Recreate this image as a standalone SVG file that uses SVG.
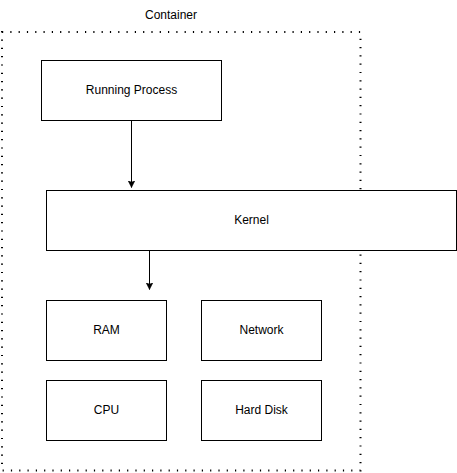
<svg xmlns="http://www.w3.org/2000/svg" width="457" height="473" viewBox="0 0 457 473">
<style>
.box{fill:#fff;stroke:#000;stroke-width:1}
.lbl{font-family:"Liberation Sans",Arial,sans-serif;font-size:12px;fill:#000;text-anchor:middle;dominant-baseline:central}
.edge{stroke:#000;stroke-width:1;fill:none}
</style>
<defs>
<marker id="arr" markerWidth="8" markerHeight="8" refX="7" refY="4" orient="auto" markerUnits="userSpaceOnUse">
<path d="M0,0.5 L7,4 L0,7.5 L1.75,4 Z" fill="#000" stroke="#000" stroke-width="0.5"/>
</marker>
</defs>
<rect width="457" height="473" fill="#fff"/>
<g id="container">
<rect x="2" y="32" width="358.5" height="438.5" fill="none" stroke="#000" stroke-width="2" stroke-dasharray="1.2 7.1"/>
<text class="lbl" x="171" y="14.5">Container</text>
</g>
<g id="running-process">
<rect class="box" x="41.5" y="60.5" width="180" height="60"/>
<text class="lbl" x="131.5" y="89.5">Running Process</text>
</g>
<g id="kernel">
<rect class="box" x="46.5" y="190.5" width="410" height="60"/>
<text class="lbl" x="251.5" y="219.5">Kernel</text>
</g>
<g id="ram">
<rect class="box" x="46.5" y="300.5" width="120" height="60"/>
<text class="lbl" x="106.5" y="329.5">RAM</text>
</g>
<g id="network">
<rect class="box" x="201.5" y="300.5" width="120" height="60"/>
<text class="lbl" x="261.5" y="329.5">Network</text>
</g>
<g id="cpu">
<rect class="box" x="46.5" y="380.5" width="120" height="60"/>
<text class="lbl" x="106.5" y="409.5">CPU</text>
</g>
<g id="hard-disk">
<rect class="box" x="201.5" y="380.5" width="120" height="60"/>
<text class="lbl" x="261.5" y="409.5">Hard Disk</text>
</g>
<g id="connectors">
<path class="edge" d="M131.5,120.5 L131.5,187.5" marker-end="url(#arr)"/>
<path class="edge" d="M149.5,250.5 L149.5,289.5" marker-end="url(#arr)"/>
</g>
</svg>
